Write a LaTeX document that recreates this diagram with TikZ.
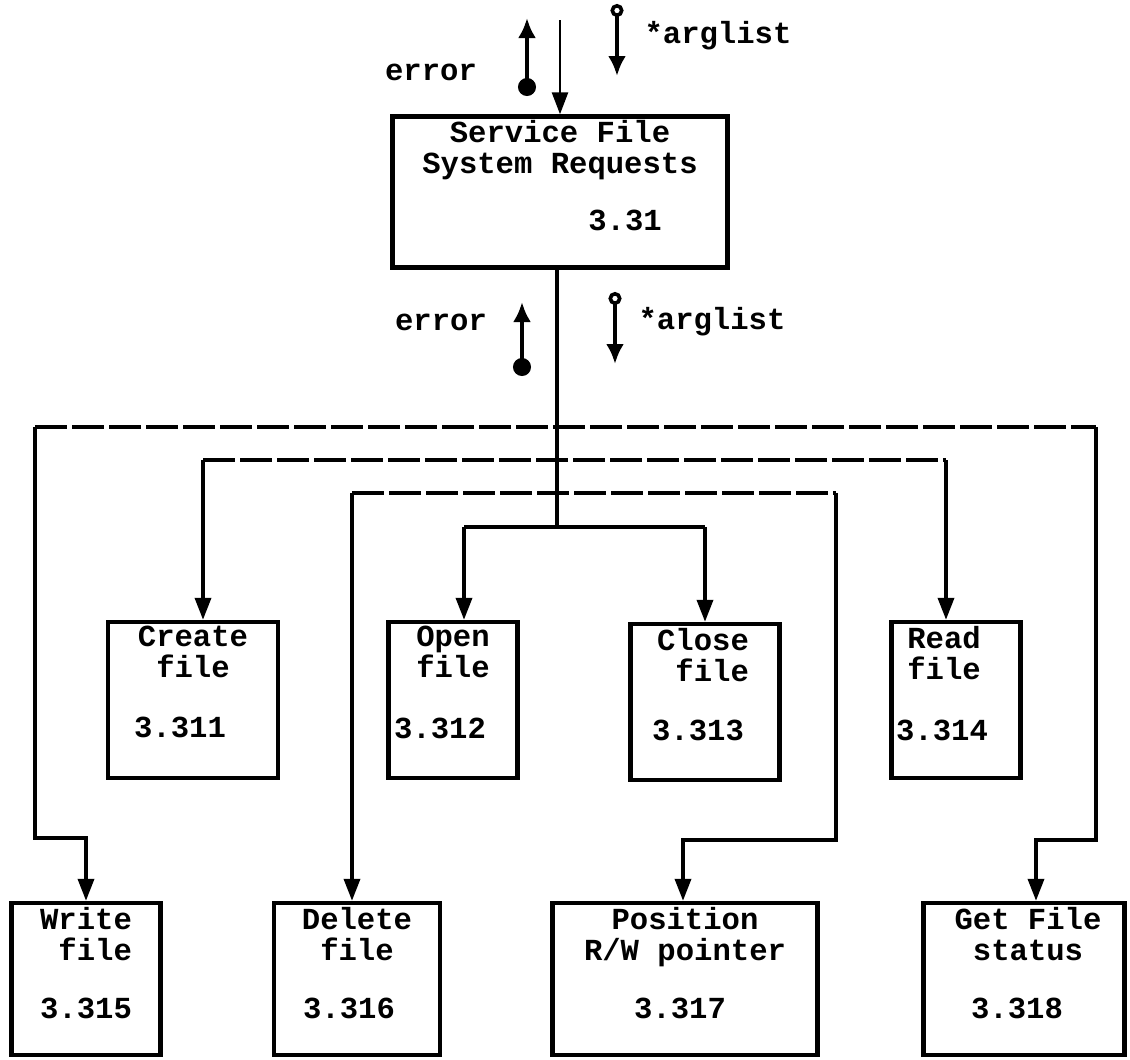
\documentclass[tikz,border=0pt]{standalone}
\usepackage{fontspec}
\setmonofont{Liberation Mono}
\usetikzlibrary{arrows.meta, positioning}

\begin{document}
\begin{tikzpicture}[
  x=0.5pt, y=-0.5pt,
  proc/.style={draw, line width=2.2pt, minimum height=78pt, inner sep=0pt},
  ttl/.style={font=\ttfamily\bfseries\fontsize{15.3}{15.5}\selectfont, align=center, inner sep=0pt},
  wire/.style={line width=1.8pt},
  bus/.style={line width=1.8pt, dash pattern=on 16pt off 2.5pt},
  tip/.style={-{Triangle[length=11pt, width=8pt]}},
  flag/.style={line width=2.1pt},
  dotflag/.style={flag, {Circle[length=9pt]}-{Latex[length=10pt, width=9pt]}},
  ringflag/.style={flag, {Circle[open, length=6.5pt, line width=1.8pt]}-{Latex[length=10pt, width=9pt]}}
]
  \useasboundingbox (0,0) rectangle (1130,1060);

  % Boxes
  \node[proc, minimum width=167.5pt, minimum height=75.5pt] (main) at (560,192) {};
  \node[proc, minimum width=85pt]   (create)   at (193,700) {};
  \node[proc, minimum width=64.5pt] (open)     at (453,700) {};
  \node[proc, minimum width=74.5pt] (close)    at (705,702) {};
  \node[proc, minimum width=64.5pt] (read)     at (956,700) {};
  \node[proc, minimum width=74.5pt, minimum height=76pt] (write)    at (86,979)  {};
  \node[proc, minimum width=83pt,   minimum height=76pt] (delete)   at (357,979) {};
  \node[proc, minimum width=132.5pt, minimum height=76pt] (position) at (685,979) {};
  \node[proc, minimum width=100.5pt, minimum height=76pt] (getfile)  at (1024,979) {};

  % Titles
  \node[ttl, anchor=north] (t-main)     at ([yshift=-3pt]main.north)     {Service File\\System Requests};
  \node[ttl, anchor=north] (t-create)   at ([yshift=-3pt]create.north)   {Create\\file};
  \node[ttl, anchor=north] (t-open)     at ([yshift=-3pt]open.north)     {Open\\file};
  \node[ttl, anchor=north, align=right] (t-close) at ([yshift=-3pt,xshift=-1pt]close.north) {Close\\file};
  \node[ttl, anchor=north] (t-read)     at ([yshift=-3pt,xshift=-6pt]read.north) {Read\\file};
  \node[ttl, anchor=north, align=right] (t-write) at ([yshift=-3pt]write.north) {Write\\file};
  \node[ttl, anchor=north] (t-delete)   at ([yshift=-3pt]delete.north)   {Delete\\file};
  \node[ttl, anchor=north] (t-position) at ([yshift=-3pt]position.north) {Position\\R/W pointer};
  \node[ttl, anchor=north] (t-getfile)  at ([yshift=-3pt,xshift=2pt]getfile.north) {Get File\\status};

  % Numbers
  \node[ttl] (n-main)     at (625,220)  {3.31};
  \node[ttl] (n-create)   at (180,727)  {3.311};
  \node[ttl] (n-open)     at (440,728)  {3.312};
  \node[ttl] (n-close)    at (698,730)  {3.313};
  \node[ttl] (n-read)     at (942,730)  {3.314};
  \node[ttl] (n-write)    at (86,1008)  {3.315};
  \node[ttl] (n-delete)   at (349,1008) {3.316};
  \node[ttl] (n-position) at (680,1008) {3.317};
  \node[ttl] (n-getfile)  at (1017,1008) {3.318};

  % Flow labels
  \node[ttl] (err-top) at (431,72)  {error};
  \node[ttl] (arg-top) at (718,36)  {*arglist};
  \node[ttl] (err-low) at (441,322) {error};
  \node[ttl] (arg-low) at (712,322) {*arglist};

  % Flags
  \coordinate (et0) at (527,96);  \coordinate (et1) at (527,18);
  \coordinate (at0) at (617,4);   \coordinate (at1) at (617,76);
  \coordinate (el0) at (522,376); \coordinate (el1) at (522,302);
  \coordinate (al0) at (615,292); \coordinate (al1) at (615,364);
  \coordinate (cmd) at (560,20);
  \draw[dotflag] (et0) -- (et1);
  \draw[ringflag] (at0) -- (at1);
  \draw[dotflag] (el0) -- (el1);
  \draw[ringflag] (al0) -- (al1);
  \draw[line width=1.3pt, tip] (cmd) -- (main.north);

  % Bus junctions
  \coordinate (j1) at (557,427);
  \coordinate (j2) at (557,460);
  \coordinate (j3) at (557,493);
  \coordinate (j4) at (557,527);
  \draw[wire] (main.south -| j1) -- (j4);

  % Outer bus: Write / Get File status
  \draw[bus] (35,427 |- j1) -- (1096,427 |- j1);
  \draw[wire, tip] (35,427) -- (35,838) -| (write.north);
  \draw[wire, tip] (1096,427) -- (1096,840) -| (1036,0 |- getfile.north);

  % Second bus: Create / Read
  \draw[bus] (203,0 |- j2) -- (946,0 |- j2);
  \draw[wire, tip] (203,0 |- j2) -- (203,0 |- create.north);
  \draw[wire, tip] (946,0 |- j2) -- (946,0 |- read.north);

  % Third bus: Delete / Position
  \draw[bus] (352,0 |- j3) -- (836,0 |- j3);
  \draw[wire, tip] (352,0 |- j3) -- (352,0 |- delete.north);
  \draw[wire, tip] (836,0 |- j3) -- (836,840) -| (683,0 |- position.north);

  % Inner bus: Open / Close
  \draw[wire] (464,0 |- j4) -- (705,0 |- j4);
  \draw[wire, tip] (464,0 |- j4) -- (464,0 |- open.north);
  \draw[wire, tip] (705,0 |- j4) -- (close.north);
\end{tikzpicture}
\end{document}
